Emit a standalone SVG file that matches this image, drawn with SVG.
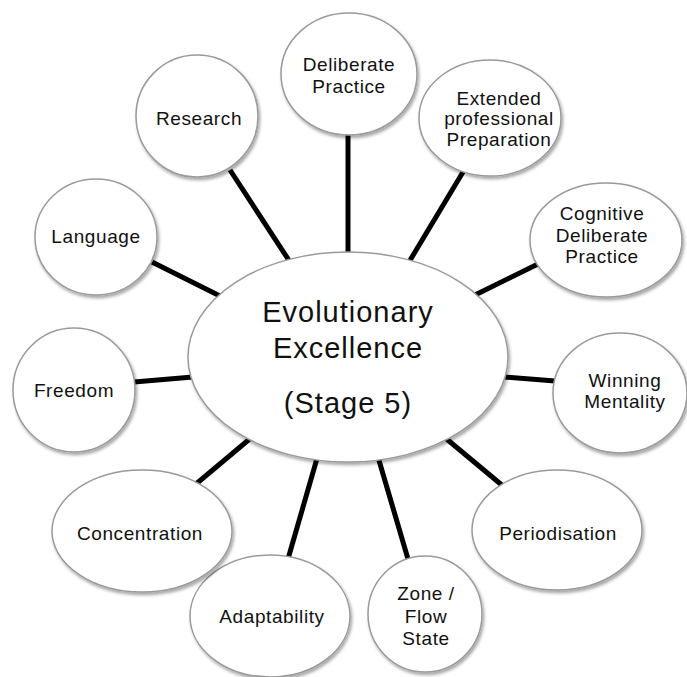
<svg xmlns="http://www.w3.org/2000/svg" width="687" height="677" viewBox="0 0 687 677">
<defs>
<filter id="sh" x="-20%" y="-20%" width="140%" height="140%">
<feDropShadow dx="1.5" dy="2.5" stdDeviation="1.8" flood-color="#000" flood-opacity="0.35"/>
</filter>
<style>
.n{fill:#fff;stroke:#9a9a9a;stroke-width:1.5;filter:url(#sh)}
.t{font-family:"Liberation Sans",Arial,sans-serif;font-size:19px;letter-spacing:0.6px;fill:#111;text-anchor:middle}
.c{font-family:"Liberation Sans",Arial,sans-serif;font-size:29px;letter-spacing:1px;fill:#111;text-anchor:middle}
.l{stroke:#000;stroke-width:5;fill:none}
</style>
</defs>
<rect width="687" height="677" fill="#fff"/>
<g id="connectors">
<line class="l" x1="230" y1="170" x2="290" y2="262"/>
<line class="l" x1="348" y1="133" x2="348" y2="256"/>
<line class="l" x1="463" y1="172" x2="409" y2="262"/>
<line class="l" x1="538" y1="264" x2="475" y2="295"/>
<line class="l" x1="555" y1="381" x2="505" y2="377"/>
<line class="l" x1="503" y1="486" x2="443" y2="436"/>
<line class="l" x1="408" y1="559" x2="378" y2="457"/>
<line class="l" x1="288" y1="559" x2="318" y2="455"/>
<line class="l" x1="196" y1="484" x2="252" y2="437"/>
<line class="l" x1="134" y1="382" x2="193" y2="377"/>
<line class="l" x1="152" y1="262" x2="222" y2="297"/>
</g>
<g id="center">
<ellipse class="n" cx="348" cy="357" rx="160" ry="105"/>
<text class="c" x="348" y="322">Evolutionary</text>
<text class="c" x="348" y="358">Excellence</text>
<text class="c" x="348" y="413">(Stage 5)</text>
</g>
<g id="n-deliberate">
<ellipse class="n" cx="349" cy="74" rx="68" ry="61"/>
<text class="t" x="349" y="71">Deliberate</text>
<text class="t" x="349" y="93">Practice</text>
</g>
<g id="n-research">
<ellipse class="n" cx="197" cy="116" rx="61" ry="61"/>
<text class="t" x="199" y="125">Research</text>
</g>
<g id="n-extended">
<ellipse class="n" cx="490" cy="118" rx="71" ry="58"/>
<text class="t" x="499" y="105">Extended</text>
<text class="t" x="499" y="125">professional</text>
<text class="t" x="499" y="146">Preparation</text>
</g>
<g id="n-cognitive">
<ellipse class="n" cx="606" cy="240" rx="76" ry="57"/>
<text class="t" x="602" y="220">Cognitive</text>
<text class="t" x="602" y="242">Deliberate</text>
<text class="t" x="602" y="263">Practice</text>
</g>
<g id="n-winning">
<ellipse class="n" cx="620" cy="393" rx="67" ry="60"/>
<text class="t" x="625" y="387">Winning</text>
<text class="t" x="625" y="408">Mentality</text>
</g>
<g id="n-periodisation">
<ellipse class="n" cx="557" cy="530" rx="85" ry="60"/>
<text class="t" x="558" y="540">Periodisation</text>
</g>
<g id="n-zone">
<ellipse class="n" cx="425" cy="614" rx="57" ry="58"/>
<text class="t" x="426" y="600">Zone /</text>
<text class="t" x="426" y="623">Flow</text>
<text class="t" x="426" y="645">State</text>
</g>
<g id="n-adaptability">
<ellipse class="n" cx="270" cy="616" rx="80" ry="61"/>
<text class="t" x="272" y="623">Adaptability</text>
</g>
<g id="n-concentration">
<ellipse class="n" cx="142" cy="531" rx="90" ry="61"/>
<text class="t" x="140" y="540">Concentration</text>
</g>
<g id="n-freedom">
<ellipse class="n" cx="74" cy="390" rx="61" ry="62"/>
<text class="t" x="74" y="397">Freedom</text>
</g>
<g id="n-language">
<ellipse class="n" cx="96" cy="237" rx="61" ry="58"/>
<text class="t" x="96" y="243">Language</text>
</g>
</svg>
